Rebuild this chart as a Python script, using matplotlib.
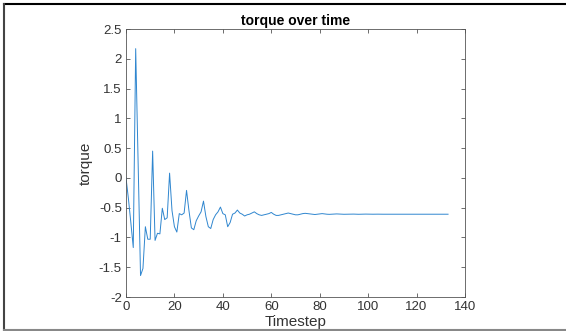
import matplotlib
matplotlib.use("Agg")
import matplotlib.pyplot as plt
from matplotlib.lines import Line2D

plt.rcParams['font.family'] = ['Liberation Sans', 'DejaVu Sans']
plt.rcParams['axes.unicode_minus'] = False

torque = [
    0.00, -0.35, -0.75, -1.17, 2.17, 0.27, -1.64, -1.52, -0.82, -1.03,
    -1.03, 0.45, -1.05, -0.93, -0.94, -0.51, -0.70, -0.67, 0.08, -0.55,
    -0.82, -0.91, -0.60, -0.62, -0.59, -0.21, -0.55, -0.84, -0.87, -0.72,
    -0.64, -0.57, -0.39, -0.65, -0.82, -0.85, -0.70, -0.62, -0.57, -0.49,
    -0.60, -0.62, -0.82, -0.75, -0.61, -0.59, -0.54, -0.59, -0.61, -0.64,
    -0.62, -0.61, -0.59, -0.57, -0.60, -0.62, -0.63, -0.62, -0.61, -0.60,
    -0.58, -0.61, -0.63, -0.63, -0.62, -0.61, -0.60, -0.59, -0.60, -0.61,
    -0.62, -0.62, -0.61, -0.60, -0.595, -0.60, -0.605, -0.61, -0.615, -0.61,
    -0.605, -0.60, -0.605, -0.61, -0.612, -0.61, -0.607, -0.605, -0.607, -0.61,
    -0.611, -0.61, -0.608, -0.607, -0.608, -0.61, -0.611, -0.61, -0.609, -0.608,
    -0.609, -0.61, -0.61, -0.609, -0.609, -0.61, -0.61, -0.61, -0.609, -0.61,
    -0.61, -0.61, -0.61, -0.61, -0.61, -0.61, -0.61, -0.61, -0.61, -0.61,
    -0.61, -0.61, -0.61, -0.61, -0.61, -0.61, -0.61, -0.61, -0.61, -0.61,
    -0.61, -0.61, -0.61, -0.61,
]
timestep = list(range(len(torque)))

xticks = [0, 20, 40, 60, 80, 100, 120, 140]
yticks = [-2, -1.5, -1, -0.5, 0, 0.5, 1, 1.5, 2, 2.5]
ytick_labels = ['-2', '-1.5', '-1', '-0.5', '0', '0.5', '1', '1.5', '2', '2.5']

W, H = 566, 331
fig = plt.figure(figsize=(W / 100, H / 100), dpi=100)
ax = fig.add_axes([126 / W, 1 - 297 / H, 339 / W, 268 / H])

ax.plot(timestep, torque, color='#2f86cf', lw=0.7)
ax.set_xlim(0, 140)
ax.set_ylim(-2, 2.5)
ax.set_xticks(xticks)
ax.set_xticklabels([str(v) for v in xticks])
ax.set_yticks(yticks)
ax.set_yticklabels(ytick_labels)

gray = '#333333'
for s in ax.spines.values():
    s.set_color('#555555')
    s.set_linewidth(0.6)
ax.tick_params(direction='in', length=3, width=0.6, colors='#555555', labelsize=9.5,
               top=True, right=True, pad=3)
for lab in ax.get_xticklabels() + ax.get_yticklabels():
    lab.set_color(gray)

ax.set_title('torque over time', fontsize=10, fontweight='bold', color='black', pad=3)
ax.set_xlabel('Timestep', fontsize=11, color=gray, labelpad=1)
ax.set_ylabel('torque', fontsize=11, color=gray, labelpad=4)

# screenshot frame: top (black), left (dark gray), bottom (gray)
fig.add_artist(Line2D([4 / W, 1], [1 - 4 / H, 1 - 4 / H], transform=fig.transFigure,
                      color='black', lw=1.5))
fig.add_artist(Line2D([4 / W, 4 / W], [1 / H, 1 - 4 / H], transform=fig.transFigure,
                      color='#444444', lw=1.5))
fig.add_artist(Line2D([4 / W, 1], [1 / H, 1 / H], transform=fig.transFigure,
                      color='#888888', lw=1.5))

fig.savefig('out.png', dpi=100)
